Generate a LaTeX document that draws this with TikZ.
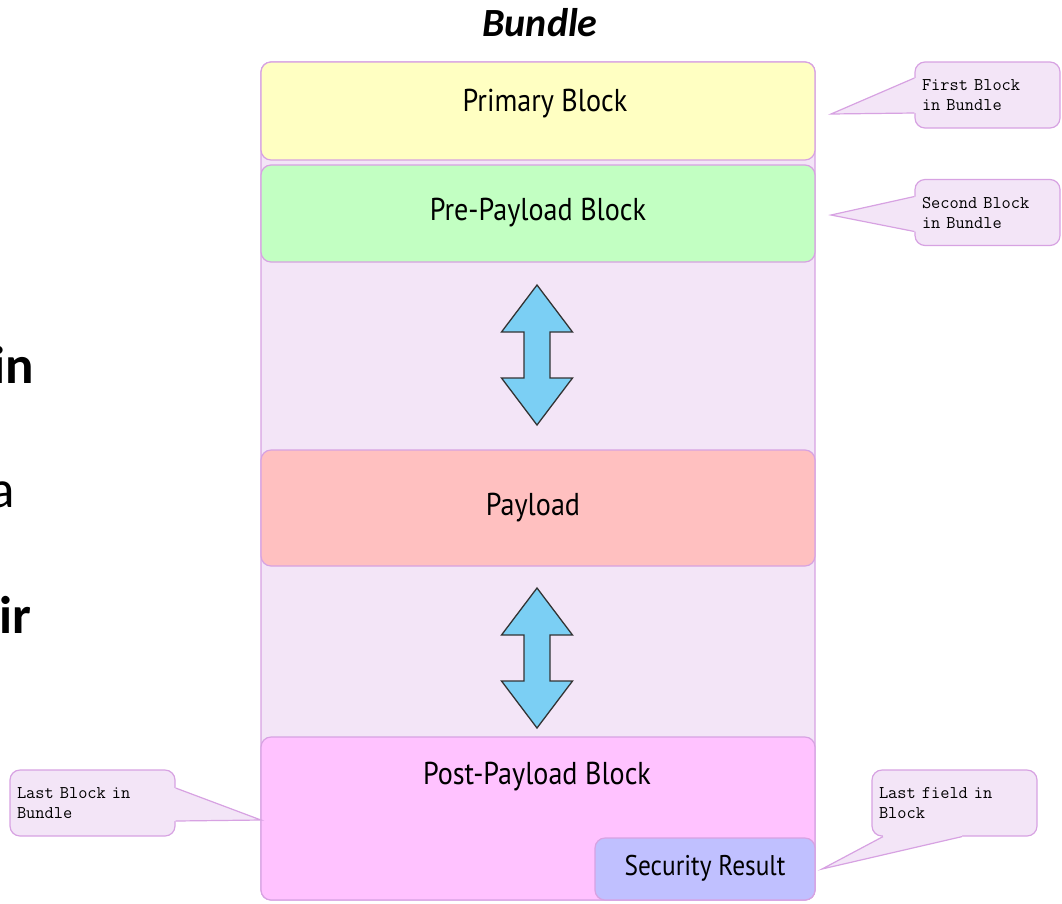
\documentclass[tikz,border=0pt]{standalone}
\usepackage{fontspec}
\newfontfamily\blockfont[FakeStretch=0.89]{PT Sans}
\newfontfamily\slidefont{Carlito}
\usetikzlibrary{positioning, calc}

\definecolor{bundlefill}{HTML}{F3E5F7}
\definecolor{bundleline}{HTML}{D7A2E2}
\definecolor{primaryfill}{HTML}{FFFFC2}
\definecolor{prefill}{HTML}{C2FFC2}
\definecolor{payloadfill}{HTML}{FFC0C0}
\definecolor{postfill}{HTML}{FFC2FF}
\definecolor{securityfill}{HTML}{C0C0FF}
\definecolor{arrowfill}{HTML}{7BCFF4}

\begin{document}
\begin{tikzpicture}[x=1pt, y=-1pt, node distance=0.5cm, auto,
    block/.style={rectangle, draw=bundleline, line width=1.2pt, rounded corners=10pt, minimum width=554pt},
    blocktext/.style={inner sep=0pt, font=\blockfont\fontsize{31.6}{38}\selectfont},
    callout/.style={rectangle, draw=bundleline, fill=bundlefill, line width=1.2pt, rounded corners=10pt,
      minimum height=66pt, inner xsep=7pt, align=left, font=\ttfamily\fontsize{17.9}{20}\selectfont},
    updown/.style={draw=black!80, fill=arrowfill, line width=1.3pt, line join=miter}]
  \useasboundingbox (0,0) rectangle (1062,903);

  % slide text cut off at the left edge
  \node [inner sep=0pt, anchor=base west, font=\slidefont\bfseries\fontsize{53}{60}\selectfont] (in) at (-8,383) {in};
  \node [inner sep=0pt, anchor=base east, font=\slidefont\fontsize{53}{60}\selectfont] (a) at (15,507) {a};
  \node [inner sep=0pt, anchor=base east, font=\slidefont\bfseries\fontsize{53}{60}\selectfont] (eir) at (32,633) {eir};

  % the bundle and its blocks
  \node [inner sep=0pt, anchor=base, font=\slidefont\bfseries\itshape\fontsize{40}{48}\selectfont] (title) at (540,36) {Bundle};
  \node [block, fill=bundlefill, minimum height=838pt] (bundle) at (538,481) {};
  \node [block, fill=primaryfill, minimum height=98pt] (primary) at (538,111) {};
  \node [block, fill=prefill, minimum height=97pt] (pre) at (538,213.5) {};
  \node [block, fill=payloadfill, minimum height=116pt] (payload) at (538,508) {};
  \node [block, fill=postfill, minimum height=163pt] (post) at (538,818.5) {};
  \node [block, fill=securityfill, minimum width=220pt, minimum height=62pt] (security) at (705,869) {};

  \node [blocktext] (primarytxt) at (545,104) {Primary Block};
  \node [blocktext] (pretxt) at (538,213) {Pre-Payload Block};
  \node [blocktext] (payloadtxt) at (533,508) {Payload};
  \node [blocktext] (posttxt) at (537,777) {Post-Payload Block};
  \node [blocktext, font=\blockfont\fontsize{28.5}{34}\selectfont] (securitytxt) at (705,868) {Security Result};

  % two-headed arrows between the blocks
  \coordinate (arrA) at (537,355);
  \coordinate (arrB) at (537,658);
  \foreach \c in {arrA, arrB}
    \draw [updown] (\c) ++(0,-70) -- ++(35.5,47) -- ++(-22.5,0) -- ++(0,46) -- ++(22.5,0)
      -- ++(-35.5,47) -- ++(-35.5,-47) -- ++(22.5,0) -- ++(0,-46) -- ++(-22.5,0) -- cycle;

  % callouts
  \node [callout, minimum width=145pt, text width=131pt] (first) at (987.5,95) {First Block\\in Bundle};
  \node [callout, minimum width=145pt, text width=131pt] (second) at (987.5,212.5) {Second Block\\in Bundle};
  \node [callout, minimum width=165pt, text width=151pt] (lastblock) at (92.5,803) {Last Block in\\Bundle};
  \node [callout, minimum width=165pt, text width=151pt] (lastfield) at (954.5,803) {Last field in\\Block};

  \coordinate (firsttip) at (831,114);
  \coordinate (secondtip) at (831,215);
  \coordinate (lastblocktip) at (261,820);
  \coordinate (lastfieldtip) at (822,869);

  \fill [bundlefill] ($(first.west)+(3,-17)$) -- ($(first.west)+(0,-17)$) -- (firsttip) -- ($(first.west)+(0,18)$) -- ($(first.west)+(3,18)$) -- cycle;
  \draw [bundleline, line width=1.2pt] ($(first.west)+(0,-17)$) -- (firsttip) -- ($(first.west)+(0,18)$);
  \fill [bundlefill] ($(second.west)+(3,-16)$) -- ($(second.west)+(0,-16)$) -- (secondtip) -- ($(second.west)+(0,19)$) -- ($(second.west)+(3,19)$) -- cycle;
  \draw [bundleline, line width=1.2pt] ($(second.west)+(0,-16)$) -- (secondtip) -- ($(second.west)+(0,19)$);
  \fill [bundlefill] ($(lastblock.east)+(-3,-15)$) -- ($(lastblock.east)+(0,-15)$) -- (lastblocktip) -- ($(lastblock.east)+(0,18)$) -- ($(lastblock.east)+(-3,18)$) -- cycle;
  \draw [bundleline, line width=1.2pt] ($(lastblock.east)+(0,-15)$) -- (lastblocktip) -- ($(lastblock.east)+(0,18)$);
  \fill [bundlefill] ($(lastfield.south)+(-71.5,-3)$) -- ($(lastfield.south)+(-71.5,0)$) -- (lastfieldtip) -- ($(lastfield.south)+(7.5,0)$) -- ($(lastfield.south)+(7.5,-3)$) -- cycle;
  \draw [bundleline, line width=1.2pt] ($(lastfield.south)+(-71.5,0)$) -- (lastfieldtip) -- ($(lastfield.south)+(7.5,0)$);
\end{tikzpicture}
\end{document}
